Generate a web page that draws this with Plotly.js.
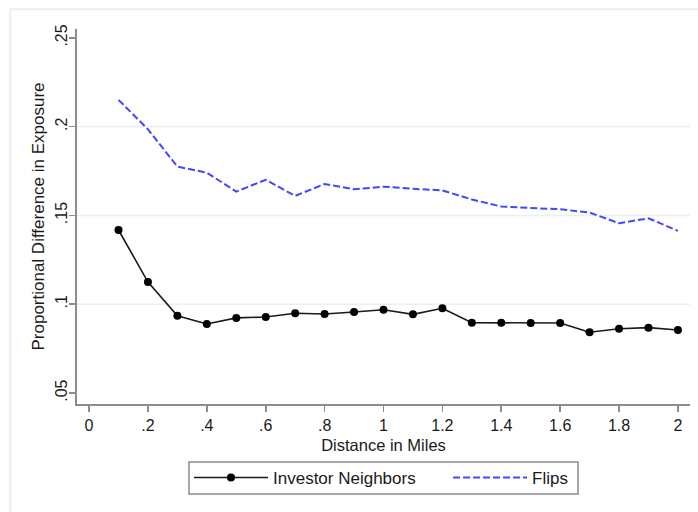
<!DOCTYPE html>
<html>
<head>
<meta charset="utf-8">
<script src="https://cdn.plot.ly/plotly-3.0.1.min.js"></script>
<style>
html,body{margin:0;padding:0;background:#fff;}
#chart{width:698px;height:512px;}
</style>
</head>
<body>
<div id="chart"></div>
<script>
// Data
var distance = [0.1,0.2,0.3,0.4,0.5,0.6,0.7,0.8,0.9,1.0,1.1,1.2,1.3,1.4,1.5,1.6,1.7,1.8,1.9,2.0];
var investorNeighbors = [0.1418,0.1125,0.0935,0.0889,0.0923,0.0928,0.0949,0.0945,0.0956,0.0969,0.0943,0.0977,0.0896,0.0896,0.0894,0.0894,0.0842,0.0862,0.0868,0.0855];
var flips = [0.2151,0.1985,0.1775,0.1741,0.1634,0.1701,0.1610,0.1677,0.1647,0.1662,0.1650,0.1641,0.1590,0.1550,0.1542,0.1535,0.1516,0.1456,0.1484,0.1413];

var xTickVals = [0,0.2,0.4,0.6,0.8,1.0,1.2,1.4,1.6,1.8,2.0];
var xTickText = ['0','.2','.4','.6','.8','1','1.2','1.4','1.6','1.8','2'];
var yTickVals = [0.05,0.10,0.15,0.20,0.25];
var yTickText = ['.05','.1','.15','.2','.25'];
var yGridVals = [0.10,0.15,0.20];

var seriesNames = ['Investor Neighbors','Flips'];
var xTitle = 'Distance in Miles';
var yTitle = 'Proportional Difference in Exposure';

var FONT = '"Liberation Sans", Arial, Helvetica, sans-serif';
var AXIS_COLOR = '#8c8c8c';
var TEXT_COLOR = '#1a1a1a';

var traces = [
  {
    x: distance, y: investorNeighbors, name: seriesNames[0],
    type: 'scatter', mode: 'lines+markers', legend: 'legend',
    line: {color: '#1a1a1a', width: 1.6},
    marker: {color: '#000000', size: 8, symbol: 'circle'}
  },
  {
    x: distance, y: flips, name: seriesNames[1],
    type: 'scatter', mode: 'lines', legend: 'legend2',
    line: {color: '#4545ff', width: 2, dash: '7px,3px'}
  }
];

var shapes = yGridVals.map(function(v){
  return {type:'line', xref:'paper', yref:'y', x0:0, x1:1, y0:v, y1:v,
          line:{color:'#e8f0f0', width:1.6}, layer:'below'};
});
// outer light frame
shapes.push({type:'line', xref:'paper', yref:'paper', x0:-0.109, x1:1.02, y0:1.053, y1:1.053,
             line:{color:'#eaeeee', width:2}, layer:'below'});
shapes.push({type:'line', xref:'paper', yref:'paper', x0:-0.109, x1:-0.109, y0:1.053, y1:-0.3,
             line:{color:'#eaeeee', width:2}, layer:'below'});
// legend frame enclosing both legend entries
shapes.push({type:'rect', xref:'paper', yref:'paper', x0:0.1827, x1:0.8173, y0:-0.24, y1:-0.1547,
             line:{color:'#8c8c8c', width:1.5}, fillcolor:'rgba(0,0,0,0)', layer:'above'});

var legendCommon = {
  orientation: 'h', yanchor: 'top', y: -0.1493, xanchor: 'left',
  borderwidth: 0, bgcolor: 'rgba(0,0,0,0)',
  font: {family: FONT, size: 17, color: TEXT_COLOR},
  itemwidth: 74
};

var layout = {
  width: 698, height: 512,
  margin: {l:77, r:8, t:29, b:108, pad:0},
  paper_bgcolor: '#ffffff', plot_bgcolor: '#ffffff',
  font: {family: FONT, size: 17, color: TEXT_COLOR},
  showlegend: true,
  xaxis: {
    range: [-0.041, 2.041],
    tickmode: 'array', tickvals: xTickVals, ticktext: xTickText,
    showgrid: false, zeroline: false,
    showline: true, linecolor: AXIS_COLOR, linewidth: 2,
    ticks: 'outside', ticklen: 6, tickwidth: 1.6, tickcolor: AXIS_COLOR,
    tickfont: {family: FONT, size: 16, color: TEXT_COLOR},
    title: {text: xTitle, font: {family: FONT, size: 16.5, color: TEXT_COLOR}, standoff: 6},
    automargin: false
  },
  yaxis: {
    range: [0.0438, 0.255],
    tickmode: 'array', tickvals: yTickVals, ticktext: yTickText,
    tickangle: -90, ticklabelstandoff: -4,
    showgrid: false, zeroline: false,
    showline: true, linecolor: AXIS_COLOR, linewidth: 2,
    ticks: 'outside', ticklen: 6, tickwidth: 1.6, tickcolor: AXIS_COLOR,
    tickfont: {family: FONT, size: 16, color: TEXT_COLOR},
    title: {text: yTitle, font: {family: FONT, size: 17, color: TEXT_COLOR}, standoff: 4},
    automargin: false
  },
  legend: Object.assign({}, legendCommon, {x: 0.1827}),
  legend2: Object.assign({}, legendCommon, {x: 0.6053}),
  shapes: shapes
};

Plotly.newPlot('chart', traces, layout, {displayModeBar: false, staticPlot: true});
</script>
</body>
</html>
